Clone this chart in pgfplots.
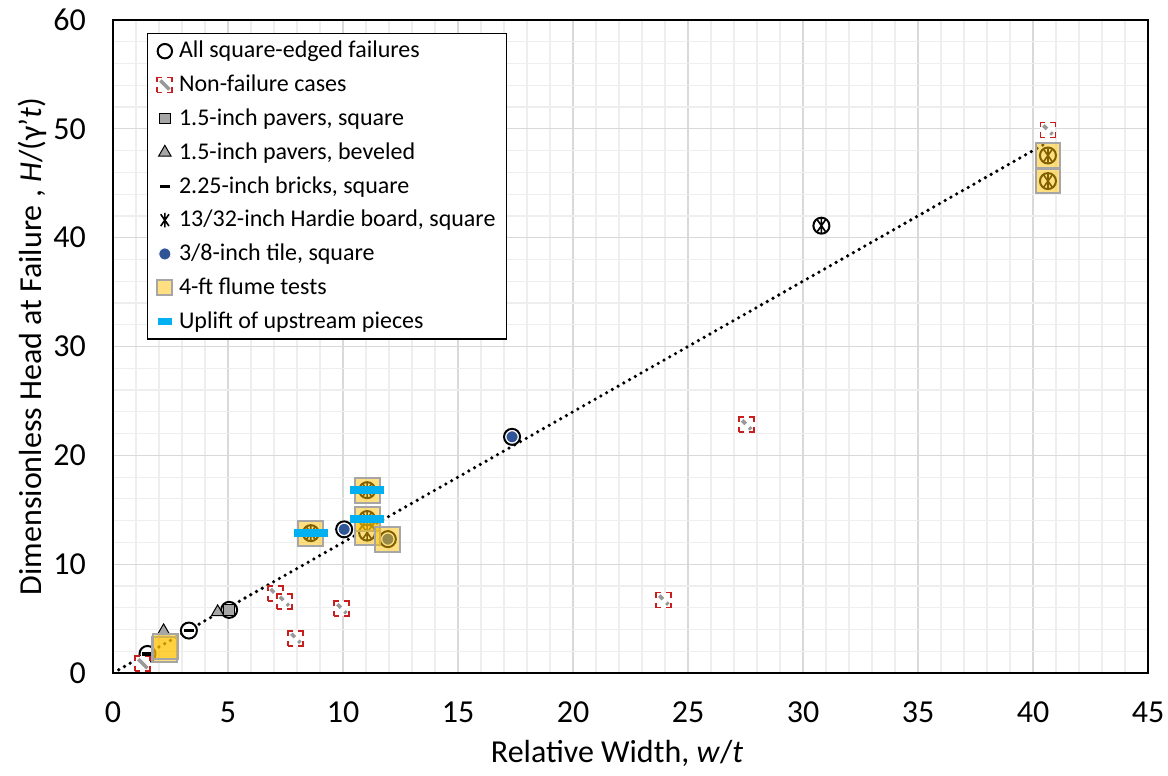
\documentclass[border=0pt]{standalone}
\usepackage{fontspec}
\setmainfont{Carlito}
\usepackage{pgfplots}
\pgfplotsset{compat=1.18}

\definecolor{navy}{RGB}{47,85,151}
\definecolor{flumeY}{RGB}{255,192,0}
\definecolor{upl}{RGB}{0,176,240}
\definecolor{nfred}{RGB}{200,30,30}
\definecolor{majgrid}{RGB}{217,217,217}
\definecolor{mingrid}{RGB}{238,238,238}
\definecolor{pgray}{RGB}{166,166,166}

\pgfdeclareplotmark{hardie}{%
  \pgfpathmoveto{\pgfqpoint{0pt}{\pgfplotmarksize}}%
  \pgfpathlineto{\pgfqpoint{0pt}{-\pgfplotmarksize}}%
  \pgfpathmoveto{\pgfpointpolar{55}{\pgfplotmarksize}}%
  \pgfpathlineto{\pgfpointpolar{235}{\pgfplotmarksize}}%
  \pgfpathmoveto{\pgfpointpolar{125}{\pgfplotmarksize}}%
  \pgfpathlineto{\pgfpointpolar{305}{\pgfplotmarksize}}%
  \pgfusepathqstroke}

\pgfdeclareplotmark{nonfail}{%
  \pgfpathrectangle{\pgfpoint{-\pgfplotmarksize}{-\pgfplotmarksize}}{\pgfpoint{2\pgfplotmarksize}{2\pgfplotmarksize}}%
  \pgfsetfillcolor{white}\pgfusepathqfill
  \pgfsetlinewidth{1.8pt}\pgfsetstrokecolor{black!40}\pgfsetbuttcap
  \pgfpathmoveto{\pgfpoint{-0.6\pgfplotmarksize}{0.6\pgfplotmarksize}}%
  \pgfpathlineto{\pgfpoint{0.6\pgfplotmarksize}{-0.6\pgfplotmarksize}}%
  \pgfusepathqstroke
  \pgfsetlinewidth{0.9pt}\pgfsetstrokecolor{nfred}\pgfsetdash{{5pt}{2.5pt}}{2.5pt}%
  \pgfpathrectangle{\pgfpoint{-\pgfplotmarksize}{-\pgfplotmarksize}}{\pgfpoint{2\pgfplotmarksize}{2\pgfplotmarksize}}%
  \pgfusepathqstroke}

\pgfplotsset{
  mk/.style={only marks,
    legend image code/.code={\draw[mark repeat=1,##1] plot coordinates {(0pt,0pt)}; \path[draw=none,fill=none] (-5pt,0pt) -- (5pt,0pt);}},
}

\begin{document}
\begin{tikzpicture}
\useasboundingbox (-56.5pt,-51.5pt) rectangle (527.5pt,336.5pt);
\begin{axis}[
  at={(0pt,0pt)}, anchor=south west,
  scale only axis, width=517.5pt, height=326.5pt,
  xmin=0, xmax=45, ymin=0, ymax=60,
  xtick={0,5,...,45}, ytick={0,10,...,60},
  minor x tick num=4, minor y tick num=4,
  grid=both,
  major grid style={majgrid, line width=0.6pt},
  minor grid style={mingrid, line width=0.6pt},
  tick style={draw=none},
  axis line style={black, line width=0.8pt},
  tick label style={font=\fontsize{16}{19}\selectfont},
  /pgf/number format/assume math mode=true,
  xticklabel style={yshift=-11pt},
  yticklabel style={xshift=-10pt},
  xlabel={Relative Width, \textit{w}/\textit{t}},
  ylabel={Dimensionless Head at Failure , \textit{H}/(γ'\textit{t})},
  label style={font=\fontsize{16}{19}\selectfont},
  xlabel style={at={(axis description cs:0.487,-0.1363)}, anchor=base},
  ylabel style={at={(axis description cs:-0.0686,0.5)}, anchor=base, rotate=0},
  legend style={at={(axis description cs:0.0329,0.980)}, anchor=north west,
    draw=black, line width=0.6pt, fill=white,
    font=\fontsize{12}{14}\selectfont,
    inner xsep=3.5pt, inner ysep=0.3pt, row sep=0pt,
    nodes={inner xsep=2pt, inner ysep=2.3pt, text height=9.5pt, text depth=2.8pt}},
  legend cell align=left,
]
% trend line
\addplot[forget plot, black, line width=1.8pt, line cap=round, dash pattern=on 0pt off 3.3pt] coordinates {(0,0) (40.5,48.6)};

% All square-edged failures
\addplot[mk, mark=*, mark size=4pt, mark options={fill=white, draw=black, line width=1pt},
  legend image post style={mark size=3.6pt}] coordinates {
(1.5,1.75) (3.3,3.9) (5.05,5.8) (10.05,13.2) (17.35,21.7) (30.8,41.1)
(8.6,12.85) (11.05,16.8) (11.05,14.15) (11.05,12.9) (11.95,12.3)
(40.65,47.55) (40.65,45.2)};
\addlegendentry{All square-edged failures}

% Non-failure
\addplot[mk, mark=nonfail, mark size=3.75pt] coordinates {
(1.3,0.85) (7.05,7.3) (7.45,6.6) (9.95,5.9) (7.95,3.2) (23.95,6.7) (27.55,22.8) (40.65,49.9)};
\addlegendentry{Non-failure cases}

% 1.5-inch pavers square
\addplot[mk, mark=square*, mark size=2.6pt, mark options={fill=pgray, draw=black, line width=0.5pt}] coordinates {
(5.05,5.8)};
\addlegendentry{1.5-inch pavers, square}

% beveled
\addplot[mk, mark=triangle*, mark size=3.6pt, mark options={fill=pgray, draw=black, line width=0.5pt}] coordinates {
(4.55,5.6) (2.2,3.85)};
\addlegendentry{1.5-inch pavers, beveled}

% bricks
\addplot[mk, mark=-, mark size=2.6pt, mark options={black, line width=1.7pt}] coordinates {
(1.5,1.75) (3.3,3.9)};
\addlegendentry{2.25-inch bricks, square}

% Hardie
\addplot[mk, mark=hardie, mark size=3.6pt, mark options={black, line width=0.8pt}] coordinates {
(30.8,41.1) (8.6,12.85) (11.05,16.8) (11.05,14.15) (11.05,12.9) (40.65,47.55) (40.65,45.2)};
\addlegendentry{13/32-inch Hardie board, square}

% tile
\addplot[mk, mark=*, mark size=3pt, mark options={fill=navy, draw=white, line width=0.4pt}] coordinates {
(10.05,13.2) (17.35,21.7) (11.95,12.3)};
\addlegendentry{3/8-inch tile, square}

% flume tests
\addplot[mk, mark=square*, mark size=6.2pt, mark options={fill=flumeY, fill opacity=0.5, draw=pgray, draw opacity=1, line width=1pt},
  legend image post style={mark size=3.7pt}] coordinates {
(2.25,2.15) (2.3,2.45) (8.6,12.85) (11.05,16.8) (11.05,14.15) (11.05,12.9) (11.95,12.3) (40.65,47.55) (40.65,45.2)};
\addlegendentry{4-ft flume tests}

% uplift
\addplot[only marks, mark=-, mark size=8.5pt, mark options={upl, line width=4pt},
  legend image code/.code={\draw[upl, line width=3.2pt] (-3.5pt,0pt) -- (3.5pt,0pt); \path[draw=none] (-5pt,0pt) -- (5pt,0pt);}] coordinates {
(8.6,12.85) (11.05,16.8) (11.05,14.15)};
\addlegendentry{Uplift of upstream pieces}
\end{axis}
\end{tikzpicture}
\end{document}
